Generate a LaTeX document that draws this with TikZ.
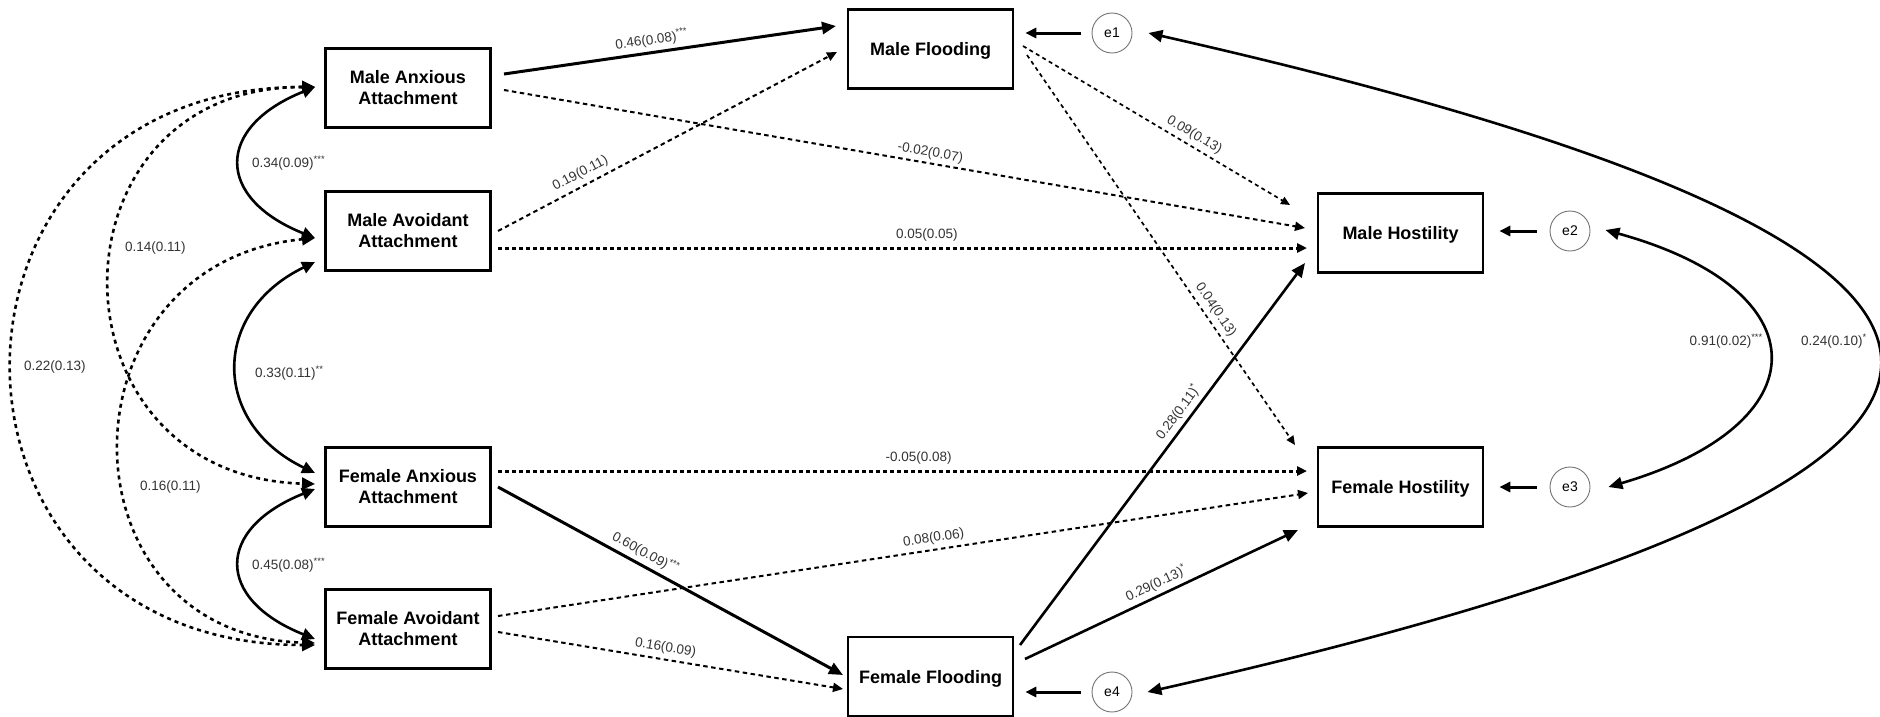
\documentclass[tikz,border=0pt]{standalone}
\usepackage{fontspec}
\setmainfont{Liberation Sans}
\usetikzlibrary{arrows.meta,calc}

\tikzset{
  var/.style={draw, line width=2.6pt, minimum width=165pt, minimum height=79pt,
    inner sep=0pt, align=center, font=\fontsize{18}{21}\selectfont\bfseries,
    execute at begin node={\rule{0pt}{17.5pt}}},
  err/.style={draw=black!55, line width=0.9pt, circle, minimum size=40pt,
    inner sep=0pt, font=\fontsize{14}{14}\selectfont},
  lab/.style={font=\fontsize{13.5}{14}\selectfont, text=black!80, inner sep=2pt},
  bigtip/.style={-{Triangle[length=14pt,width=12pt]}},
  path solid/.style={line width=3pt, bigtip},
  path dashed/.style={line width=2pt, dash pattern=on 4.5pt off 3.5pt,
    -{Triangle[length=10pt,width=9pt]}},
  path dotted/.style={line width=3pt, dash pattern=on 4pt off 3pt,
    -{Triangle[length=10pt,width=9pt]}},
  path thin/.style={line width=1.7pt, dash pattern=on 4pt off 3.5pt,
    -{Triangle[length=9pt,width=8pt]}},
  resid/.style={line width=3pt, -{Triangle[length=11pt,width=10pt]}},
  cov solid/.style={line width=2.6pt,
    {Triangle[length=13pt,width=12pt]}-{Triangle[length=13pt,width=12pt]}},
  cov dashed/.style={line width=2.6pt, dash pattern=on 4pt off 4pt,
    {Triangle[length=13pt,width=12pt]}-{Triangle[length=13pt,width=12pt]}},
  cov err/.style={line width=2.6pt,
    {Triangle[length=14pt,width=12pt]}-{Triangle[length=14pt,width=12pt]}},
}

\begin{document}
\begin{tikzpicture}[x=1pt,y=-1pt]
\useasboundingbox (0,0) rectangle (1880,716);

% observed variables
\node[var] (MA)  at (408,88)  {Male Anxious\\Attachment};
\node[var] (MAv) at (408,231) {Male Avoidant\\Attachment};
\node[var] (FA)  at (408,487) {Female Anxious\\Attachment};
\node[var] (FAv) at (408,629) {Female Avoidant\\Attachment};
\node[var] (MF)  at (930.5,49)  {Male Flooding};
\node[var] (FF)  at (930.5,676.5) {Female Flooding};
\node[var] (MH)  at (1400.5,233) {Male Hostility};
\node[var] (FH)  at (1400.5,487) {Female Hostility};

% residual terms
\node[err] (e1) at (1112,33)  {e1};
\node[err] (e2) at (1570,231) {e2};
\node[err] (e3) at (1570,487) {e3};
\node[err] (e4) at (1112,692) {e4};

% paths from attachment to flooding and hostility
\draw[path solid] ($(MA)+(96,-14)$) -- node[lab,sloped,above=2pt,pos=0.45] (l1) {0.46(0.08)\textsuperscript{***}} ($(MF)+(-94.5,-23)$);
\draw[path dashed] ($(MA)+(96,2)$) -- node[lab,sloped,above=1pt,pos=0.53] (l2) {-0.02(0.07)} ($(MH)+(-95.5,-5)$);
\draw[path dashed] ($(MAv)+(90,0)$) -- node[lab,sloped,above=3pt,pos=0.26] (l3) {0.19(0.11)} ($(MF)+(-93.5,3)$);
\draw[path dotted] ($(MAv)+(90,17)$) -- node[lab,above=3pt,pos=0.53] (l4) {0.05(0.05)} ($(MH)+(-93.5,15)$);
\draw[path dotted] ($(FA)+(90,-16)$) -- node[lab,above=3pt,pos=0.52] (l5) {-0.05(0.08)} ($(FH)+(-93.5,-16)$);
\draw[path solid] ($(FA)+(90,0)$) -- node[lab,sloped,above=2pt,pos=0.41] (l6) {0.60(0.09)\textsuperscript{***}} ($(FF)+(-87.5,-1.5)$);
\draw[path dashed] ($(FAv)+(90,-13)$) -- node[lab,sloped,above=2pt,pos=0.54] (l7) {0.08(0.06)} ($(FH)+(-92.5,6)$);
\draw[path dashed] ($(FAv)+(90,3)$) -- node[lab,sloped,above=2pt,pos=0.48] (l8) {0.16(0.09)} ($(FF)+(-87.5,12.5)$);

% paths from flooding to hostility
\draw[path thin] ($(MF)+(92.5,-3)$) -- node[lab,sloped,above=2pt,pos=0.62] (l9) {0.09(0.13)} ($(MH)+(-110.5,-28)$);
\draw[path thin] ($(MF)+(96.5,6)$) -- node[lab,sloped,above=2pt,pos=0.67] (l10) {0.04(0.13)} ($(FH)+(-105.5,-42)$);
\draw[path solid, line width=2.6pt] ($(FF)+(89.5,-31.5)$) -- node[lab,sloped,above=2pt,pos=0.59] (l11) {0.28(0.11)\textsuperscript{*}} ($(MH)+(-95.5,30)$);
\draw[path solid, line width=2.6pt] ($(FF)+(94.5,-17.5)$) -- node[lab,sloped,above=2pt,pos=0.5] (l12) {0.29(0.13)\textsuperscript{*}} ($(FH)+(-102.5,43)$);

% residual arrows
\draw[resid] ($(e1.west)+(-11,0)$) -- ($(MF.east)+(11,-16)$);
\draw[resid] ($(e2.west)+(-13,0)$) -- ($(MH.east)+(15,-2)$);
\draw[resid] ($(e3.west)+(-13,0)$) -- ($(FH.east)+(15,0)$);
\draw[resid] ($(e4.west)+(-11,0)$) -- ($(FF.east)+(11,15.5)$);

% covariances among the attachment variables
\draw[cov solid] ($(MA)+(-93,-1)$) .. controls +(-100,40) and +(-100,-40) .. ($(MAv)+(-93,7)$);
\draw[cov solid] ($(MAv)+(-93,31)$) .. controls +(-104,50) and +(-104,-50) .. ($(FA)+(-93,-14)$);
\draw[cov solid] ($(FA)+(-93,2)$) .. controls +(-100,40) and +(-100,-40) .. ($(FAv)+(-93,10)$);
\draw[cov dashed] ($(MA)+(-93,-1)$) .. controls +(-273,0) and +(-273,-8) .. ($(FA)+(-93,-3)$);
\draw[cov dashed] ($(MAv)+(-93,7)$) .. controls +(-260,25) and +(-260,-8) .. ($(FAv)+(-93,14)$);
\draw[cov dashed] ($(MA)+(-93,-1)$) .. controls +(-403,0) and +(-403,0) .. ($(FAv)+(-93,16)$);

\node[lab,anchor=west] (c1) at (250,163) {0.34(0.09)\textsuperscript{***}};
\node[lab,anchor=west] (c2) at (123,248) {0.14(0.11)};
\node[lab,anchor=west] (c3) at (22,367)  {0.22(0.13)};
\node[lab,anchor=west] (c4) at (253,373) {0.33(0.11)\textsuperscript{**}};
\node[lab,anchor=west] (c5) at (138,487) {0.16(0.11)};
\node[lab,anchor=west] (c6) at (250,565) {0.45(0.08)\textsuperscript{***}};

% covariances among the residuals
\draw[cov err] ($(e2.east)+(15,-1)$) .. controls +(217,60) and +(214,-63) .. ($(e3.east)+(18,0)$);
\draw[cov err] ($(e1.east)+(16,0)$) .. controls +(973,220) and +(974,-220) .. ($(e4.east)+(15,0)$);
\node[lab,anchor=east] (c7) at (1765,341) {0.91(0.02)\textsuperscript{***}};
\node[lab,anchor=east] (c8) at (1869,341) {0.24(0.10)\textsuperscript{*}};
\end{tikzpicture}
\end{document}
